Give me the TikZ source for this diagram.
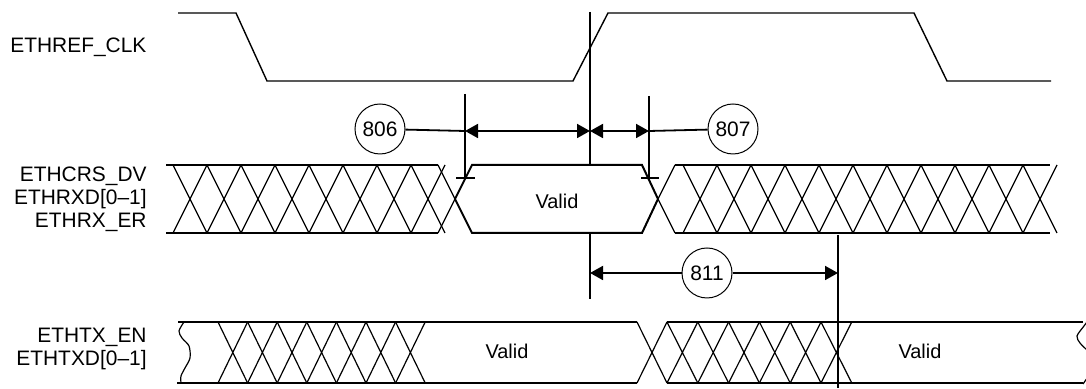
\documentclass[tikz,border=0pt]{standalone}
\usepackage{fontspec}
\setmainfont{Liberation Sans}
\usetikzlibrary{arrows.meta}
\usetikzlibrary{shapes}

\tikzset{
  sig/.style={line width=0.7bp},
  bus/.style={line width=1bp},
  hatch/.style={line width=0.6bp},
  refline/.style={line width=0.9bp},
  lbl/.style={inner sep=0pt,font=\fontsize{10.5}{11.6}\selectfont},
  tag/.style={draw,circle,line width=0.5bp,fill=white,inner sep=0pt,minimum size=25bp,
    font=\fontsize{10.5}{12}\selectfont},
}

\begin{document}
\begin{tikzpicture}[x=0.5bp,y=-0.5bp,>={Triangle[length=6.5bp,width=7bp]}]
\useasboundingbox (0,0) rectangle (1086,389);
%%
\node (clk_lbl) at (10,47) [lbl,anchor=west] {ETHREF\_CLK};
\node (rx_lbl) at (147,199) [lbl,anchor=east,align=right] {ETHCRS\_DV\\ETHRXD[0–1]\\ETHRX\_ER};
\node (tx_lbl) at (147,349) [lbl,anchor=east,align=right] {ETHTX\_EN\\ETHTXD[0–1]};
%
% clock
\draw [sig] (178,13) -- (236,13) -- (267,81) -- (573,81) -- (608,13) -- (914,13) -- (947,81) -- (1051,81);
% reference edges
\coordinate (ref_top) at (590,12);
\coordinate (ref_bot) at (590,299);
\coordinate (tx_top) at (838,235);
\coordinate (tx_bot) at (838,388);
\draw [refline] (ref_top) -- (ref_bot);
\draw [refline] (tx_top) -- (tx_bot);
%
% receive bus
\draw [bus] (166,165) -- (438,165) (166,233) -- (438,233);
\foreach \x in {173,207,...,411} {
  \draw [hatch] (\x,165) -- (\x+34,233) (\x,233) -- (\x+34,165);
}
\draw [hatch] (438,165) -- (455,199) (438,233) -- (455,199);
\filldraw [bus,fill=white] (472,165) -- (642,165) -- (658,199) -- (642,233) -- (472,233) -- (455,199) -- cycle;
\node (rx_valid) at (557,201) [lbl,font=\fontsize{10}{12}\selectfont] {Valid};
\draw [hatch] (658,199) -- (675,165) (658,199) -- (675,233);
\draw [bus] (675,165) -- (1050,165) (675,233) -- (1050,233);
\foreach \x in {683,717,...,1023} {
  \draw [hatch] (\x,165) -- (\x+34,233) (\x,233) -- (\x+34,165);
}
%
% transmit bus
\draw [bus] (178,322) -- (637,322) (177,383) -- (637,383);
\draw [hatch] plot [smooth] coordinates {(184,322) (179,331) (182,338) (189,346) (190,358) (185,368) (181,376) (181,383)};
\foreach \i in {0,...,6} {
  \draw [hatch] (218+29.6*\i,322) -- (247.6+29.6*\i,383) (218+29.6*\i,383) -- (247.6+29.6*\i,322);
}
\draw [hatch] (637,322) -- (667,383) (637,383) -- (667,322);
\draw [bus] (667,322) -- (1083,322) (667,383) -- (1083,383);
\foreach \i in {0,...,5} {
  \draw [hatch] (667+30.8*\i,322) -- (697.8+30.8*\i,383) (667+30.8*\i,383) -- (697.8+30.8*\i,322);
}
\draw [hatch] plot [smooth] coordinates {(1090,318) (1084,326) (1077,336) (1080,343) (1087,350)};
\draw [hatch] (1083,384) -- (1090,374);
\node (tx_valid_a) at (507,351) [lbl,font=\fontsize{10}{12}\selectfont] {Valid};
\node (tx_valid_b) at (920,351) [lbl,font=\fontsize{10}{12}\selectfont] {Valid};
%
% setup and hold
\coordinate (rx_lo) at (465,131);
\coordinate (rx_ref) at (590,131);
\coordinate (rx_hi) at (649,131);
\draw [refline] (465,94) -- (465,178) (456,178) -- (475,178);
\draw [refline] (649,96) -- (649,178) (641,178) -- (659,178);
\node (t806) at (380,129) [tag] {806};
\node (t807) at (733,129) [tag] {807};
\draw [refline] (t806) -- (rx_lo);
\draw [refline,<->] (rx_lo) -- (rx_ref);
\draw [refline,<->] (rx_ref) -- (rx_hi);
\draw [refline] (rx_hi) -- (t807);
%
% output delay
\coordinate (od_lo) at (590,273);
\coordinate (od_hi) at (838,273);
\node (t811) at (707,273) [tag] {811};
\draw [refline,->] (t811) -- (od_lo);
\draw [refline,->] (t811) -- (od_hi);
%
\end{tikzpicture}
\end{document}
